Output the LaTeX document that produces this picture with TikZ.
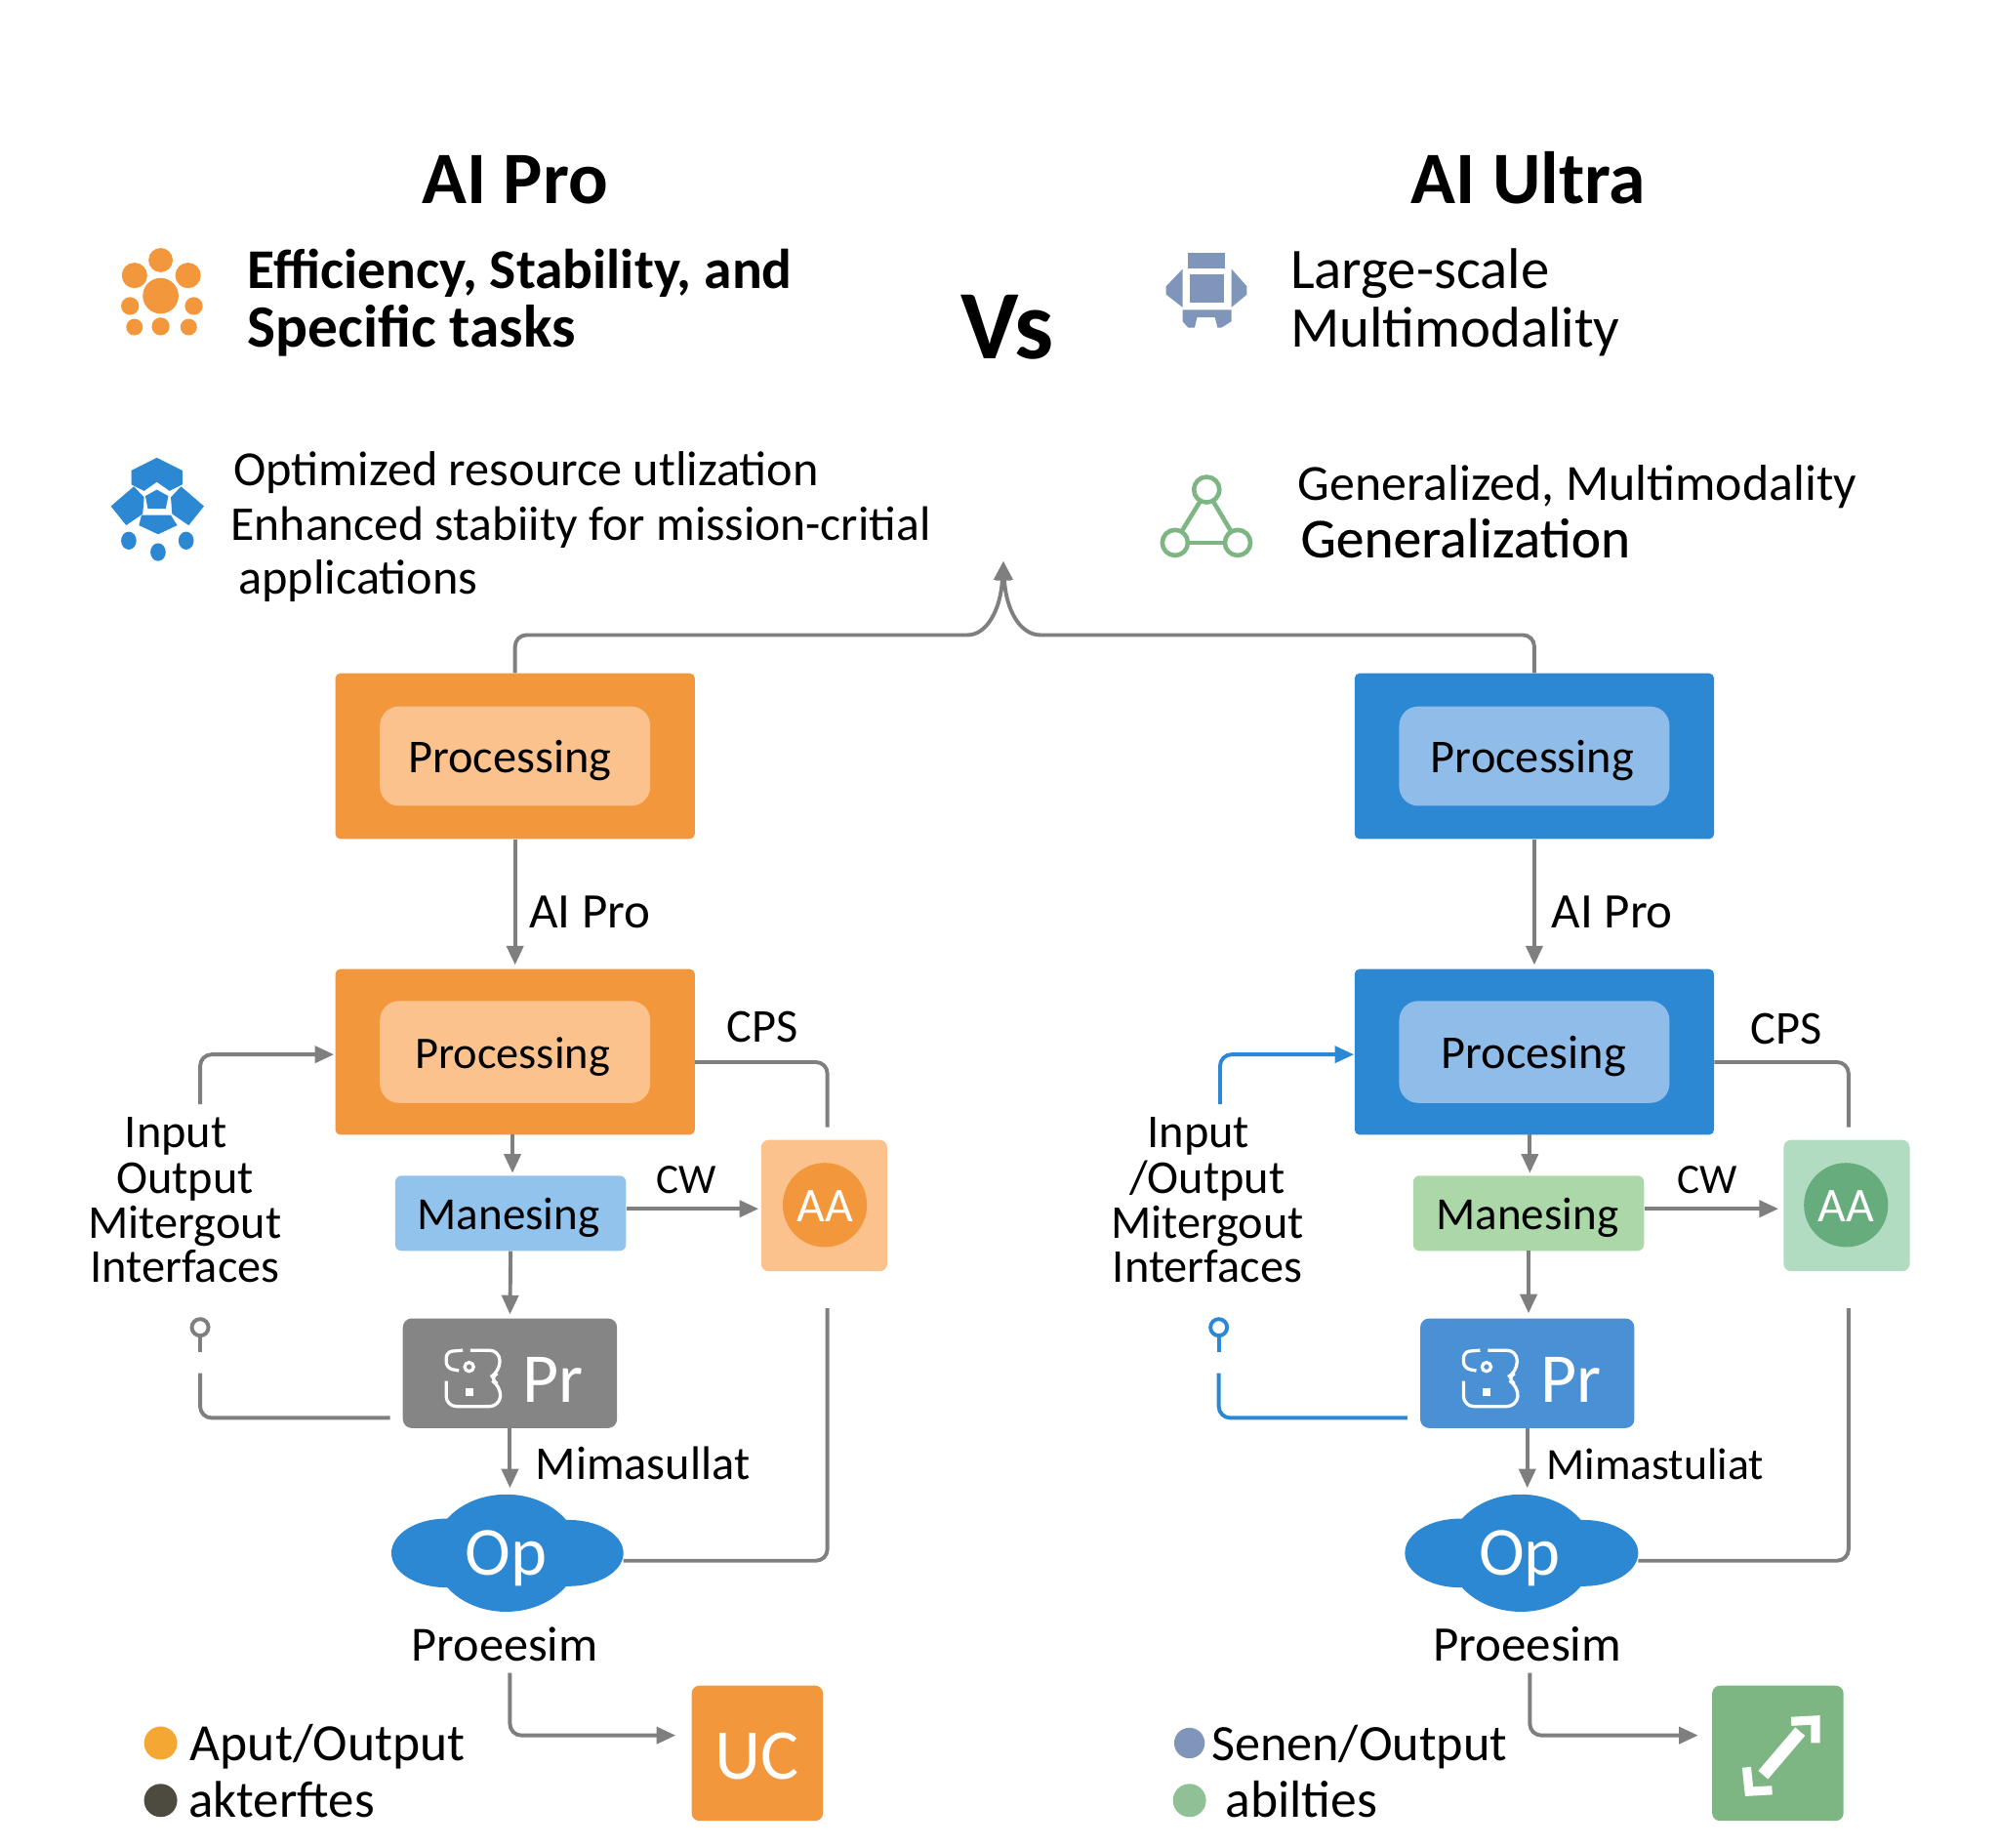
\documentclass[tikz,border=0pt]{standalone}
\usepackage{fontspec}
\setmainfont{Carlito}
\newfontfamily\semifont[FakeBold=0.25]{Carlito}
\usetikzlibrary{arrows.meta}
\newcommand{\fsz}[1]{\fontsize{#1}{#1}\selectfont}
\definecolor{orangemain}{HTML}{F2973B}
\definecolor{orangesoft}{HTML}{FBC28D}
\definecolor{bluemain}{HTML}{2C88D2}
\definecolor{bluesoft}{HTML}{8FBCE9}
\definecolor{bluepale}{HTML}{92C3EC}
\definecolor{bluepr}{HTML}{4A90D4}
\definecolor{greenpale}{HTML}{ABD7A9}
\definecolor{greensoft}{HTML}{B2DCC2}
\definecolor{greenmain}{HTML}{7DB583}
\definecolor{greenring}{HTML}{66AC7C}
\definecolor{graybox}{HTML}{858585}
\definecolor{linegray}{HTML}{7F7F7F}
\definecolor{slate}{HTML}{7F96BA}
\definecolor{darkdot}{HTML}{4D4A40}
\tikzset{
  bigbox/.style={rectangle,rounded corners=4,minimum width=282,minimum height=130,inner sep=0},
  softbox/.style={rectangle,rounded corners=15,minimum width=212,inner sep=0},
  midbox/.style={rectangle,rounded corners=5,minimum width=181,minimum height=59,inner sep=0},
  prbox/.style={rectangle,rounded corners=7,minimum width=168,minimum height=86,inner sep=0},
  aabox/.style={rectangle,rounded corners=6,minimum width=99,minimum height=103,inner sep=0},
  endbox/.style={rectangle,rounded corners=6,minimum width=103,minimum height=106,inner sep=0},
  lbl/.style={inner sep=0,anchor=base,font=\fsz{37}},
  lblw/.style={lbl,anchor=base west},
  head/.style={inner sep=0,anchor=base,font=\fsz{58}\bfseries},
  sub/.style={inner sep=0,anchor=base west,font=\fsz{45}},
  note/.style={inner sep=0,anchor=base west,font=\fsz{38.5}},
  wlbl/.style={inner sep=0,anchor=base,text=white},
  flow/.style={draw=linegray,line width=3,-{Triangle[length=15,width=13]},rounded corners=9},
  wire/.style={draw=linegray,line width=3,rounded corners=9},
  bluewire/.style={draw=bluemain,line width=3,rounded corners=9},
  blueflow/.style={bluewire,-{Triangle[length=15,width=13]}},
}
\begin{document}
\begin{tikzpicture}[x=1pt,y=-1pt]
  \useasboundingbox (0,0) rectangle (1568,1448.6);

  % headings
  \node[head] (titleL) at (404,160) {AI Pro};
  \node[head] (titleR) at (1199,160) {AI Ultra};
  \node[head,font=\fsz{77}\bfseries] (versus) at (790,281) {Vs};
  \node[sub,font=\fsz{44}\bfseries] (effA) at (194,226) {Efficiency, Stability, and};
  \node[sub,font=\fsz{47}\bfseries] (effB) at (194,272) {Specific tasks};
  \node[sub] (largeA) at (1012,226) {Large-scale};
  \node[sub] (largeB) at (1012,272) {Multimodality};
  \node[note] (optA) at (183,381) {Optimized resource utlization};
  \node[note,font=\fsz{38}] (optB) at (181,424) {Enhanced stabiity for mission-critial};
  \node[note] (optC) at (187,466) {applications};
  \node[note,font=\fsz{39.7}] (genA) at (1018,392) {Generalized, Multimodality};
  \node[note,font=\fsz{44}\semifont] (genB) at (1020,437) {Generalization};

  % orange dots
  \fill[orangemain] (126,232) circle(14);
  \fill[orangemain] (126,204) circle(9.5);
  \fill[orangemain] (105.5,216) circle(10);
  \fill[orangemain] (147.5,216) circle(10);
  \fill[orangemain] (102,240) circle(7);
  \fill[orangemain] (152,240) circle(7);
  \fill[orangemain] (105.5,256.5) circle(6.5);
  \fill[orangemain] (126,256) circle(7);
  \fill[orangemain] (148,256.5) circle(6.5);

  % blue cells
  \fill[bluemain] (123,359) -- (143,369) -- (143,380) -- (133,385) -- (123,378) -- (113,385) -- (103,380) -- (103,369) -- cycle;
  \fill[bluemain] (87,397) -- (105,381.5) -- (113,390) -- (112,403) -- (99,412) -- cycle;
  \fill[bluemain] (160,397) -- (142,381.5) -- (134,390) -- (135,403) -- (148,412) -- cycle;
  \fill[bluemain] (123,384) -- (132,389) -- (130,399) -- (116,399) -- (114,389) -- cycle;
  \fill[bluemain] (111,404) -- (134,404) -- (139,412) -- (124,419) -- (109,412) -- cycle;
  \fill[bluemain] (101,424) ellipse(6 and 7);
  \fill[bluemain] (146,424) ellipse(6 and 7);
  \fill[bluemain] (124,433) ellipse(6 and 7);

  % slate machine
  \fill[slate] (931.5,198.5) rectangle (961,210.5);
  \fill[slate] (933,215) rectangle (960,237);
  \fill[slate] (927.6,211) -- (914.7,224.5) -- (914.7,231) -- (927.6,241) -- cycle;
  \fill[slate] (966,211) -- (978,224.5) -- (978,231) -- (966,241) -- cycle;
  \fill[slate] (927.6,243) -- (966,243) -- (966,252) -- (958,257) -- (955,257) -- (953,249) -- (939,249) -- (937,257) -- (932,257) -- (927.6,252) -- cycle;

  % green triangle
  \draw[greenmain,line width=3.5] (946.5,384) circle(10);
  \draw[greenmain,line width=3.5] (921.7,425.6) circle(10);
  \draw[greenmain,line width=3.5] (970.8,425.6) circle(10);
  \draw[greenmain,line width=3.5] (941.5,393) -- (926.7,417);
  \draw[greenmain,line width=3.5] (951.5,393) -- (965.8,417);
  \draw[greenmain,line width=3.5] (931.7,425.6) -- (960.8,425.6);

  % left column
  \node[bigbox,fill=orangemain] (topL) at (404,593) {};
  \node[softbox,fill=orangesoft,minimum height=78] (topinL) at (404,593) {};
  \node[lbl] (toptxtL) at (400,606) {Processing};
  \node[bigbox,fill=orangemain] (procL) at (404,825) {};
  \node[softbox,fill=orangesoft,minimum height=80] (procinL) at (404,825) {};
  \node[lbl,font=\fsz{35.5}] (proctxtL) at (402,838) {Processing};
  \node[midbox,fill=bluepale] (manL) at (400.5,951.5) {};
  \node[lbl,font=\fsz{36}] (mantxtL) at (399,964) {Manesing};
  \node[prbox,fill=graybox] (prL) at (400,1077) {};
  \node[wlbl,font=\fsz{55}] (prtxtL) at (434,1100) {Pr};
  \node[aabox,fill=orangesoft] (aaL) at (646.5,945.5) {};
  \node[circle,fill=orangemain,minimum size=66,inner sep=0] (aacL) at (647,945) {};
  \node[wlbl,font=\fsz{38}] (aatxtL) at (647,958) {AA};
  \node[rectangle,minimum width=182,minimum height=93,inner sep=0] (opL) at (398,1218) {};
  \fill[bluemain] (397,1218) ellipse(57 and 46);
  \fill[bluemain] (350,1218) ellipse(43 and 27);
  \fill[bluemain] (446,1218) ellipse(43 and 26);
  \node[wlbl,font=\fsz{54}] (optxtL) at (397,1235) {Op};
  \node[endbox,fill=orangemain] (ucL) at (594,1375) {};
  \node[wlbl,font=\fsz{56}] (uctxtL) at (594,1395) {UC};
  \node[lblw,font=\fsz{39}] (aiproL) at (415,728) {AI Pro};
  \node[lbl] (cpsL) at (598,817) {CPS};
  \node[lbl,font=\fsz{33}] (cwL) at (538,936) {CW};
  \node[lblw] (mimaL) at (420,1160) {Mimasullat};
  \node[lbl,font=\fsz{38.5}] (proeL) at (396,1303) {Proeesim};
  \node[lbl] (inA) at (138,900) {Input};
  \node[lbl] (inB) at (145,936) {Output};
  \node[lbl] (inC) at (145,971) {Mitergout};
  \node[lbl] (inD) at (145,1006) {Interfaces};
  \node[circle,fill=orangemain!85!yellow,minimum size=26,inner sep=0] (dotaL) at (126,1367) {};
  \node[circle,fill=darkdot,minimum size=26,inner sep=0] (dotbL) at (126,1412) {};
  \node[lblw,font=\fsz{41}] (keyaL) at (149,1381) {Aput/Output};
  \node[lblw,font=\fsz{40.5}] (keybL) at (148,1425) {akterftes};

  % right column
  \node[bigbox,fill=bluemain] (topR) at (1203.5,593) {};
  \node[softbox,fill=bluesoft,minimum height=78] (topinR) at (1203.5,593) {};
  \node[lbl] (toptxtR) at (1202,606) {Processing};
  \node[bigbox,fill=bluemain] (procR) at (1203.5,825) {};
  \node[softbox,fill=bluesoft,minimum height=80] (procinR) at (1203.5,825) {};
  \node[lbl] (proctxtR) at (1203,838) {Procesing};
  \node[midbox,fill=greenpale] (manR) at (1199,951.5) {};
  \node[lbl,font=\fsz{36}] (mantxtR) at (1198,964) {Manesing};
  \node[prbox,fill=bluepr] (prR) at (1198,1077) {};
  \node[wlbl,font=\fsz{55}] (prtxtR) at (1232,1100) {Pr};
  \node[aabox,fill=greensoft] (aaR) at (1448.5,945.5) {};
  \node[circle,fill=greenring,minimum size=66,inner sep=0] (aacR) at (1448,945) {};
  \node[wlbl,font=\fsz{38}] (aatxtR) at (1448,958) {AA};
  \node[rectangle,minimum width=183,minimum height=93,inner sep=0] (opR) at (1193.5,1218) {};
  \fill[bluemain] (1193,1218) ellipse(57 and 46);
  \fill[bluemain] (1145,1218) ellipse(43 and 27);
  \fill[bluemain] (1242,1218) ellipse(43 and 26);
  \node[wlbl,font=\fsz{54}] (optxtR) at (1192,1235) {Op};
  \node[endbox,fill=greenmain] (ucR) at (1394.5,1375) {};
  \node[lblw,font=\fsz{39}] (aiproR) at (1217,728) {AI Pro};
  \node[lbl] (cpsR) at (1401,819) {CPS};
  \node[lbl,font=\fsz{33}] (cwR) at (1339,936) {CW};
  \node[lblw,font=\fsz{35}] (mimaR) at (1213,1160) {Mimastuliat};
  \node[lbl,font=\fsz{39}] (proeR) at (1198,1303) {Proeesim};
  \node[lbl] (outA) at (940,900) {Input};
  \node[lbl] (outB) at (947,936) {/Output};
  \node[lbl] (outC) at (947,971) {Mitergout};
  \node[lbl] (outD) at (947,1006) {Interfaces};
  \node[circle,fill=slate,minimum size=24,inner sep=0] (dotaR) at (933,1367) {};
  \node[circle,fill=greenmain!85!white,minimum size=26,inner sep=0] (dotbR) at (933,1412) {};
  \node[lblw,font=\fsz{40}] (keyaR) at (950,1381) {Senen/Output};
  \node[lblw,font=\fsz{41}] (keybR) at (961,1425) {abilties};

  % chip glyph on the Pr boxes
  \foreach \shiftx in {0,798}{
    \begin{scope}[xshift=\shiftx pt,white,line width=2.5]
      \draw[rounded corners=5] (363,1059) -- (350,1060) -- (350,1073) -- (360,1075);
      \draw[rounded corners=8] (369,1059) -- (392,1059) -- (392,1076) -- (383,1081) -- (393,1087) -- (392,1103) -- (350,1103) -- (350,1083);
      \draw (368,1072) circle(3.5);
      \fill (365,1089) rectangle (371,1095);
    \end{scope}
  }

  % double arrow
  \draw[white,line width=10] (1383,1392) -- (1412,1358);
  \draw[white,line width=7] (1405,1350) -- (1424,1349) -- (1424,1367);
  \draw[white,line width=7] (1370,1386) -- (1372,1405) -- (1390,1404);

  % arms to the apex
  \coordinate (apex) at (787,440);
  \coordinate (joinL) at (750,498);
  \coordinate (joinR) at (825,498);
  \draw[flow] (topL.north) |- (joinL) .. controls (774,498) and (785,478) .. (apex);
  \draw[flow] (topR.north) |- (joinR) .. controls (800,498) and (789,478) .. (apex);

  % left links
  \coordinate (cpsendL) at (649,884);
  \coordinate (retL) at (649,1026);
  \coordinate (opoutL) at (489,1224);
  \coordinate (instartL) at (157,866);
  \coordinate (inendL) at (262,827);
  \coordinate (stubaL) at (157,1049);
  \coordinate (stubbL) at (157,1060);
  \coordinate (backaL) at (157,1077);
  \coordinate (backbL) at (306,1112);
  \coordinate (endaL) at (400,1312);
  \coordinate (endbL) at (530,1361);
  \draw[flow,shorten >=3] (topL.south) -- (procL.north);
  \draw[flow] (402,890) -- (402,920);
  \draw[flow,shorten >=3] (manL.south) -- (prL.north);
  \draw[flow] (prL.south) -- (400,1167);
  \draw[flow] (manL.east |- 0,948) -- (595,948);
  \draw[wire] (procL.east |- 0,833) -| (cpsendL);
  \draw[wire] (retL) |- (opoutL);
  \draw[flow] (instartL) |- (inendL);
  \draw[wire] (157,1041) circle(6.5);
  \draw[wire] (stubaL) -- (stubbL);
  \draw[wire] (backaL) |- (backbL);
  \draw[flow] (endaL) |- (endbL);

  % right links
  \coordinate (cpsendR) at (1450,884);
  \coordinate (retR) at (1450,1026);
  \coordinate (opoutR) at (1285,1224);
  \coordinate (instartR) at (957,866);
  \coordinate (inendR) at (1062,827);
  \coordinate (stubaR) at (956,1049);
  \coordinate (stubbR) at (956,1060);
  \coordinate (backaR) at (956,1077);
  \coordinate (backbR) at (1104,1112);
  \coordinate (endaR) at (1200,1312);
  \coordinate (endbR) at (1332,1361);
  \draw[flow,shorten >=3] (topR.south) -- (procR.north);
  \draw[flow] (1200,890) -- (1200,920);
  \draw[flow] (1199,981) -- (1199,1030);
  \draw[flow] (prR.south) -- (1198,1167);
  \draw[flow] (manR.east |- 0,948) -- (1395,948);
  \draw[wire] (procR.east |- 0,833) -| (cpsendR);
  \draw[wire] (retR) |- (opoutR);
  \draw[blueflow] (instartR) |- (inendR);
  \draw[bluewire] (956,1041) circle(6.5);
  \draw[bluewire] (stubaR) -- (stubbR);
  \draw[bluewire] (backaR) |- (backbR);
  \draw[flow] (endaR) |- (endbR);
\end{tikzpicture}
\end{document}
